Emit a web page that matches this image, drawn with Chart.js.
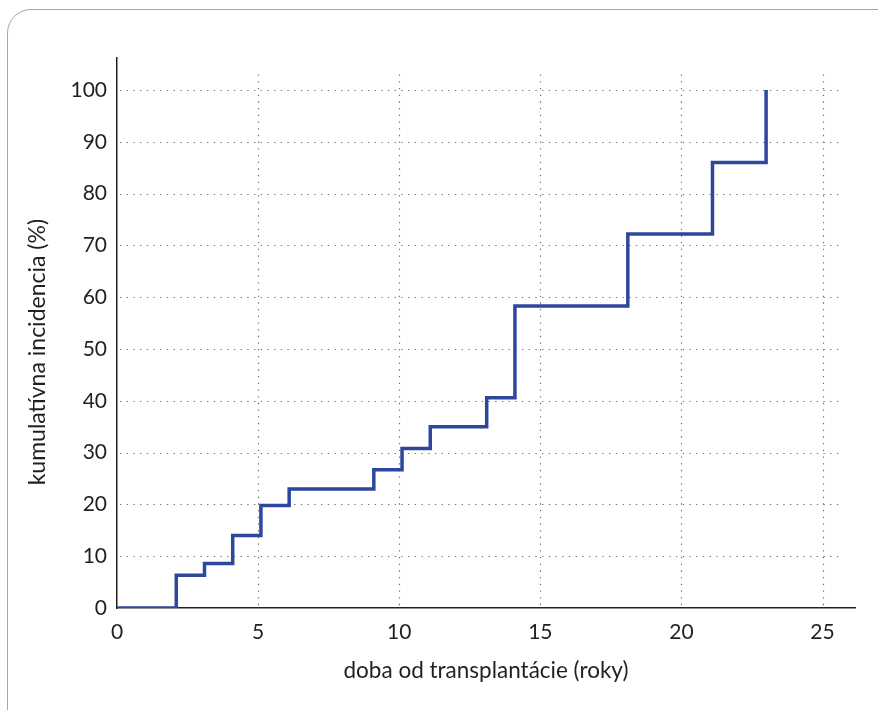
<!DOCTYPE html>
<html>
<head>
<meta charset="utf-8">
<script src="https://cdn.jsdelivr.net/npm/chart.js@4"></script>
<style>
  html, body { margin: 0; padding: 0; background: #fff; }
  body { width: 878px; height: 710px; position: relative; overflow: hidden; }
  .card {
    position: absolute; left: 7px; top: 9px; width: 900px; height: 740px;
    border: 1.5px solid #a7a7a7; border-radius: 24px; box-sizing: border-box;
  }
  #chart { position: absolute; left: 0; top: 0; }
</style>
</head>
<body>
<div class="card"></div>
<canvas id="chart" width="878" height="710"></canvas>
<script>
// step points (time in years, cumulative incidence in %)
const years = [0, 2.1, 3.1, 4.1, 5.1, 6.1, 9.1, 10.1, 11.1, 13.1, 14.1, 18.1, 21.1, 23.0];
const incidence = [0, 6.3, 8.6, 14.0, 19.8, 23.0, 26.7, 30.8, 35.0, 40.6, 58.3, 72.2, 86.0, 100];
const xTicks = [0, 5, 10, 15, 20, 25];
const yTicks = [0, 10, 20, 30, 40, 50, 60, 70, 80, 90, 100];
const yTitle = 'kumulatívna incidencia (%)';

const textColor = '#231f20';
const fontFamily = 'Lato, "Open Sans", sans-serif';

// dotted grid, drawn with the chart's own scales
const dottedGrid = {
  id: 'dottedGrid',
  beforeDatasetsDraw(chart) {
    const { ctx, scales: { x, y } } = chart;
    ctx.save();
    ctx.strokeStyle = '#6d6d6d';
    ctx.lineWidth = 1.2;
    ctx.setLineDash([1.3, 5.4]);
    const xEnd = x.getPixelForValue(25.6);
    yTicks.forEach(v => {
      if (v === 0) return;
      const py = Math.round(y.getPixelForValue(v)) + 0.5;
      ctx.beginPath();
      ctx.moveTo(x.getPixelForValue(0) + 3, py);
      ctx.lineTo(xEnd, py);
      ctx.stroke();
    });
    const yTop = y.getPixelForValue(103);
    xTicks.forEach(v => {
      if (v === 0) return;
      const px = Math.round(x.getPixelForValue(v)) + 0.5;
      ctx.beginPath();
      ctx.moveTo(px, yTop);
      ctx.lineTo(px, y.getPixelForValue(0));
      ctx.stroke();
    });
    ctx.restore();
  }
};

// y title sits a bit below the middle of the axis in the original
const sideTitle = {
  id: 'sideTitle',
  afterDraw(chart) {
    const { ctx, scales: { y } } = chart;
    ctx.save();
    ctx.translate(38, y.getPixelForValue(49.4));
    ctx.rotate(-Math.PI / 2);
    ctx.fillStyle = textColor;
    ctx.font = '23px ' + fontFamily;
    ctx.textAlign = 'center';
    ctx.textBaseline = 'middle';
    ctx.fillText(yTitle, 0, 0);
    ctx.restore();
  }
};

new Chart(document.getElementById('chart'), {
  type: 'line',
  data: {
    datasets: [{
      data: years.map((t, i) => ({ x: t, y: incidence[i] })),
      borderColor: '#2c479c',
      borderWidth: 3.5,
      pointRadius: 0,
      stepped: 'before',
      fill: false
    }]
  },
  options: {
    responsive: false,
    animation: false,
    layout: { padding: { left: 24, top: 58, right: 23, bottom: 22 } },
    plugins: { legend: { display: false }, tooltip: { enabled: false } },
    scales: {
      x: {
        type: 'linear',
        min: 0,
        max: 26.15,
        afterBuildTicks: s => { s.ticks = xTicks.map(v => ({ value: v })); },
        afterFit: s => { s.height = 80; },
        grid: { display: false, drawTicks: false },
        border: { display: true, color: '#231f20', width: 1.5 },
        ticks: { color: textColor, font: { family: fontFamily, size: 21 }, padding: 12, maxRotation: 0, autoSkip: false },
        title: {
          display: true,
          text: 'doba od transplantácie (roky)',
          color: textColor,
          font: { family: fontFamily, size: 22.5 },
          padding: { top: 11 }
        }
      },
      y: {
        type: 'linear',
        min: 0,
        max: 106.2,
        afterBuildTicks: s => { s.ticks = yTicks.map(v => ({ value: v })); },
        afterFit: s => { s.width = 93; },
        grid: { display: false, drawTicks: false },
        border: { display: true, color: '#231f20', width: 1.5 },
        ticks: { color: textColor, font: { family: fontFamily, size: 21 }, padding: 10, autoSkip: false },
        title: { display: false }
      }
    }
  },
  plugins: [dottedGrid, sideTitle]
});
</script>
</body>
</html>
